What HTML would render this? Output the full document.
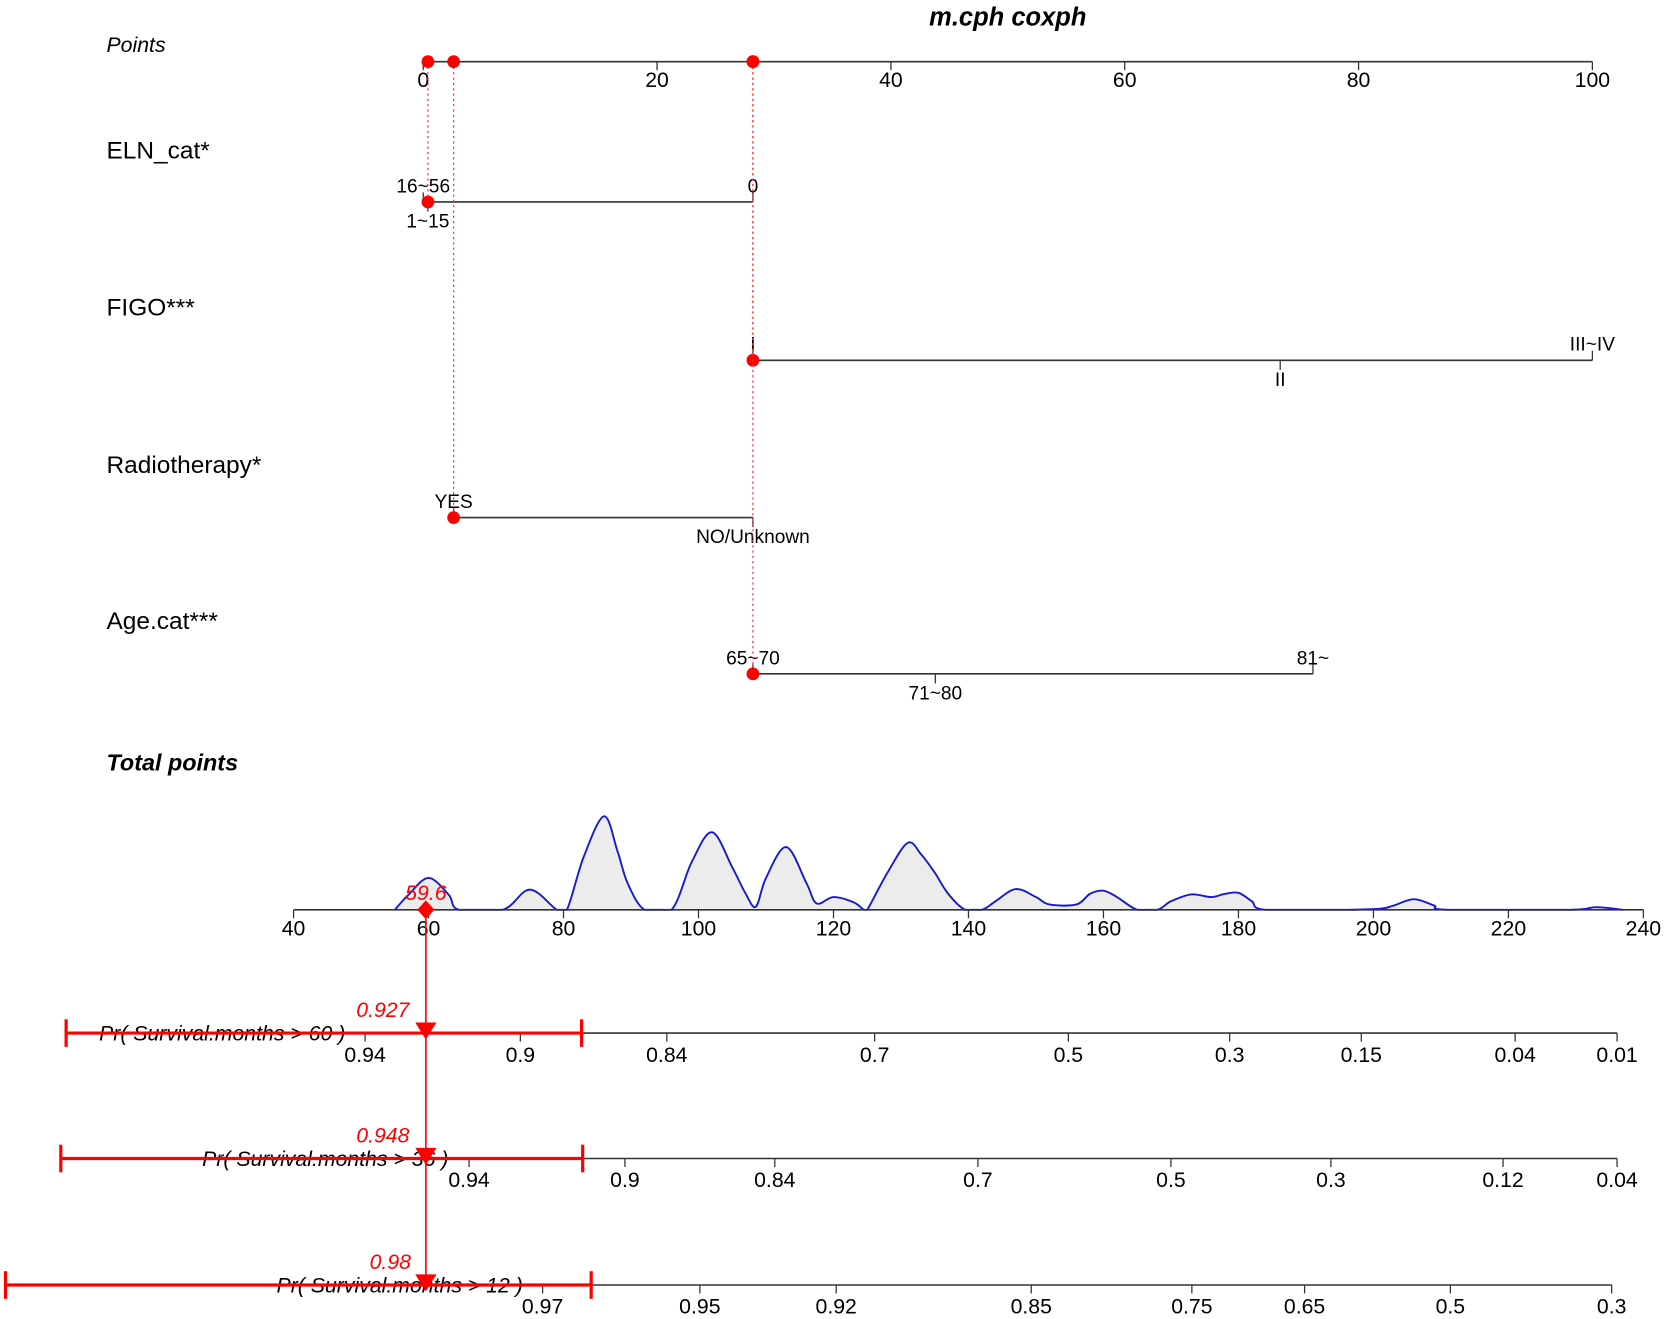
<!DOCTYPE html>
<html><head><meta charset="utf-8"><style>
html,body{margin:0;padding:0;background:#fff;}
svg{display:block;font-family:"Liberation Sans",Arial,sans-serif;}
</style></head><body>
<svg id="chart" width="1667" height="1319" viewBox="0 0 1568 1241" xmlns="http://www.w3.org/2000/svg"></svg>
<script>
// ---- data ----
const pointTicks = [0,20,40,60,80,100];
const totalTicks = [40,60,80,100,120,140,160,180,200,220,240];
const elnLevels = ["16~56","1~15","0"];
const elnPoints = [0,0.4,28.2];
const figoLevels = ["I","II","III~IV"];
const figoPoints = [28.2,73.3,100];
const radioLevels = ["YES","NO/Unknown"];
const radioPoints = [2.6,28.2];
const ageLevels = ["65~70","71~80","81~"];
const agePoints = [28.2,43.8,76.1];
const selectedPoints = [0.4,2.6,28.2,28.2];
const totalScore = 59.6;
const densX = [55,57,60,63,64.5, 71,75,79, 80.5,83,86,88,89.5,92, 96,99,102,105,107,108.5,110,113,116,117.5,120,123,124.5, 125,128,131,133,135,137,139.5, 142,144,147,150,152,156,158,160,162,165, 168,170,173,176,178,180,182,184, 196,201,203,206,209,211, 229,233,237];
const densH = [0,14,30,14,0, 0,19,0, 0,50,88,55,25,0, 0,45,73,40,15,3,30,59,25,6,12,7,0, 0,35,63,52,35,15,0, 0,8,19.5,12,5,5,15,18,12,0, 0,8,14.5,12,15,16,8,0, 0,1,4,10,4,0, 0,2.5,0];
const s60Ticks = [0.94,0.9,0.84,0.7,0.5,0.3,0.15,0.04,0.01];
const s60Total = [50.6,73.6,95.3,126.1,154.8,178.7,198.2,221,236.1];
const s36Ticks = [0.94,0.9,0.84,0.7,0.5,0.3,0.12,0.04];
const s36Total = [66,89.1,111.3,141.4,170,193.7,219.2,236.1];
const s12Ticks = [0.97,0.95,0.92,0.85,0.75,0.65,0.5,0.3];
const s12Total = [76.9,100.2,120.4,149.3,173.1,189.8,211.4,235.3];
const survLabels = ["Pr( Survival.months > 60 )","Pr( Survival.months > 36 )","Pr( Survival.months > 12 )"];
const survValues = ["0.927","0.948","0.98"];

// ---- scales ----
const px = v => 398 + v*11;
const tx = v => 276 + (v-40)*6.35;
const svg = document.getElementById('chart');
const NS = "http://www.w3.org/2000/svg";
function mk(tag, attrs, parent){const e=document.createElementNS(NS,tag);for(const k in attrs)e.setAttribute(k,attrs[k]);(parent||svg).appendChild(e);return e;}
function txt(x,y,s,size,opts,parent){const t=mk('text',Object.assign({x:x,y:y,'font-size':size,'text-anchor':'middle',fill:'#000'},opts||{}),parent);t.textContent=s;return t;}

let e;
e=txt(948,24,"m.cph coxph",24,{'font-weight':'bold','font-style':'italic'});


const rowLabels=[["Points",49,"italic","normal",20,"points-label"],["ELN_cat*",149,"normal","normal",23,"eln-label"],["FIGO***",297,"normal","normal",23,"figo-label"],["Radiotherapy*",445,"normal","normal",23,"radiotherapy-label"],["Age.cat***",592,"normal","normal",23,"age-label"],["Total points",725,"italic","bold",22,"total-points-label"]];
rowLabels.forEach(r=>{const t=txt(100,r[1],r[0],r[4],{'text-anchor':'start','font-style':r[2],'font-weight':r[3]});

});

const pAx=mk('g',{});


mk('line',{x1:px(0),x2:px(100),y1:58,y2:58,stroke:'#333','stroke-width':1.5},pAx);
pointTicks.forEach(v=>{mk('line',{x1:px(v),x2:px(v),y1:58,y2:66,stroke:'#333','stroke-width':1.2},pAx);
const t=txt(px(v),82,String(v),20,{},pAx);

});

function row(levels,pts,y,above,name){
  const g=mk('g',{});
  
  
  const mn=Math.min(...pts),mx=Math.max(...pts);
  mk('line',{x1:px(mn),x2:px(mx),y1:y,y2:y,stroke:'#333','stroke-width':1.5},g);
  levels.forEach((l,i)=>{
    const up=above[i];
    mk('line',{x1:px(pts[i]),x2:px(pts[i]),y1:y,y2:up?y-9:y+9,stroke:'#333','stroke-width':1.2},g);
    txt(px(pts[i]),up?y-9:y+24,l,18,{},g);
  });
}
row(elnLevels,elnPoints,190,[true,false,true],'eln-row');
row(figoLevels,figoPoints,339,[true,false,true],'figo-row');
row(radioLevels,radioPoints,487,[true,false],'radiotherapy-row');
row(ageLevels,agePoints,634,[true,false,true],'age-row');

const rowYs=[190,487,339,634];
selectedPoints.forEach((v,i)=>{
  mk('line',{x1:px(v),x2:px(v),y1:58,y2:rowYs[i],stroke:'#f33','stroke-width':1.2,'stroke-dasharray':'2,3'});
  const d1=mk('circle',{cx:px(v),cy:58,r:6,fill:'#f00'});
  
  
  const d2=mk('circle',{cx:px(v),cy:rowYs[i],r:6,fill:'#f00'});
  
  
});

const base=856;
const pts=densX.map((x,i)=>[tx(x),base-densH[i]]);
let d="M"+pts[0][0]+","+pts[0][1];
for(let i=0;i<pts.length-1;i++){
  const p0=pts[Math.max(0,i-1)],p1=pts[i],p2=pts[i+1],p3=pts[Math.min(pts.length-1,i+2)];
  const c1=[p1[0]+(p2[0]-p0[0])/6,p1[1]+(p2[1]-p0[1])/6],c2=[p2[0]-(p3[0]-p1[0])/6,p2[1]-(p3[1]-p1[1])/6];
  c1[1]=Math.min(c1[1],base);c2[1]=Math.min(c2[1],base);
  d+=` C${c1[0]},${c1[1]} ${c2[0]},${c2[1]} ${p2[0]},${p2[1]}`;
}
const dens=mk('path',{d:d+` L${pts[pts.length-1][0]},${base} L${pts[0][0]},${base} Z`,fill:'#ececec',stroke:'none'});


const densLine=mk('path',{d:d,fill:'none',stroke:'#1a1acc','stroke-width':1.8});



const tAx=mk('g',{});


mk('line',{x1:tx(40),x2:tx(240),y1:base,y2:base,stroke:'#333','stroke-width':1.5},tAx);
totalTicks.forEach(v=>{mk('line',{x1:tx(v),x2:tx(v),y1:base,y2:base+8,stroke:'#333','stroke-width':1.2},tAx);txt(tx(v),880,String(v),20,{},tAx);});

const survY=[972,1090,1209];
const survRed=[[62,547],[57,548],[5,556]];
const survTextX=[93,190,260];
const valX=[360,360,367];
[[s60Ticks,s60Total],[s36Ticks,s36Total],[s12Ticks,s12Total]].forEach((ax,k)=>{
  const y=survY[k];
  const g=mk('g',{});
  
  
  mk('line',{x1:tx(ax[1][0])-10,x2:tx(ax[1][ax[1].length-1]),y1:y,y2:y,stroke:'#333','stroke-width':1.5},g);
  ax[0].forEach((t,i)=>{mk('line',{x1:tx(ax[1][i]),x2:tx(ax[1][i]),y1:y,y2:y+8,stroke:'#333','stroke-width':1.2},g);txt(tx(ax[1][i]),y+27,String(t),20,{},g);});
  const lab=txt(survTextX[k],y+7,survLabels[k],20,{'text-anchor':'start','font-style':'italic'});
  
  
  const r=survRed[k];
  mk('line',{x1:r[0],x2:r[1],y1:y,y2:y,stroke:'#f00','stroke-width':3});
  mk('line',{x1:r[0],x2:r[0],y1:y-13,y2:y+13,stroke:'#f00','stroke-width':3});
  mk('line',{x1:r[1],x2:r[1],y1:y-13,y2:y+13,stroke:'#f00','stroke-width':3});
  const tri=mk('polygon',{points:`${tx(totalScore)-10},${y-10} ${tx(totalScore)+10},${y-10} ${tx(totalScore)},${y+6}`,fill:'#f00'});
  
  
  const v=txt(valX[k],y-15,survValues[k],20,{'font-style':'italic',fill:'#f00'});
  
  
});

mk('line',{x1:tx(totalScore),x2:tx(totalScore),y1:base,y2:1209,stroke:'#f00','stroke-width':1.5});
const dia=mk('polygon',{points:`${tx(totalScore)},${base-9} ${tx(totalScore)+8},${base} ${tx(totalScore)},${base+9} ${tx(totalScore)-8},${base}`,fill:'#f00'});


const sl=txt(tx(totalScore),847,String(totalScore),20,{'font-style':'italic',fill:'#f00'});


</script>
</body></html>
